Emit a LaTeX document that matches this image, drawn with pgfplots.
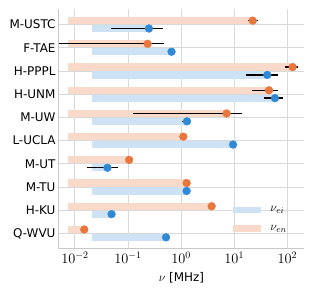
\documentclass[border=0pt]{standalone}
\usepackage{pgfplots}
\pgfplotsset{compat=1.18}
\usepackage{fontspec}
\setmainfont{DejaVu Sans}
\definecolor{cblue}{HTML}{3189D6}
\definecolor{corange}{HTML}{E8763D}
\definecolor{lblue}{HTML}{CDE2F4}
\definecolor{lorange}{HTML}{F9DACA}
\definecolor{gridc}{HTML}{D9D9D9}
\definecolor{spinec}{HTML}{C8C8C8}
\begin{document}
\begin{tikzpicture}[font=\fontsize{12}{14}\selectfont]
\begin{axis}[
  name=ax,
  scale only axis, width=245bp, height=239bp,
  xmode=log, xmin=0.00501, xmax=206,
  y dir=reverse, ymin=-0.65, ymax=9.65,
  ytick={0,...,9},
  yticklabels={M-USTC,F-TAE,H-PPPL,H-UNM,M-UW,L-UCLA,M-UT,M-TU,H-KU,Q-WVU},
  xtick={0.01,0.1,1,10,100},
  xticklabels={$10^{-2}$,$10^{-1}$,$10^{0}$,$10^{1}$,$10^{2}$},
  grid=major, major grid style={gridc, line width=0.9bp},
  axis x line*=bottom, axis y line*=left,
  axis line style={spinec, line width=1bp, -},
  major tick length=0pt, minor tick length=0pt,
  yticklabel style={font=\fontsize{12}{14}\selectfont},
  xticklabel style={font=\fontsize{14}{16}\selectfont},
  xlabel={$\nu$ [MHz]},
  xlabel style={font=\fontsize{12}{14}\selectfont, yshift=-2bp},
  legend style={at={(0.698,0.185)}, anchor=north west, draw=none, fill=none,
    inner sep=0pt, row sep=8bp, font=\fontsize{13}{15}\selectfont,
    nodes={inner xsep=6bp}},
  legend cell align=left,
]
% blue bars (nu_ei)
\addplot[lblue, line width=7.2bp, unbounded coords=jump,
  legend image code/.code={\draw[lblue, line width=6.5bp] (0cm,0cm) -- (0.98cm,0cm);}]
  coordinates {
  (0.0206,0.17) (0.248,0.17) (nan,nan)
  (0.0206,1.17) (0.66,1.17) (nan,nan)
  (0.0206,2.17) (42,2.17) (nan,nan)
  (0.0206,3.17) (58.6,3.17) (nan,nan)
  (0.0206,4.17) (1.29,4.17) (nan,nan)
  (0.0206,5.17) (9.5,5.17) (nan,nan)
  (0.0206,6.17) (0.041,6.17) (nan,nan)
  (0.0206,7.17) (1.27,7.17) (nan,nan)
  (0.0206,8.17) (0.049,8.17) (nan,nan)
  (0.0206,9.17) (0.52,9.17)
  };
\addlegendentry{$\nu_{ei}$}
% orange bars (nu_en)
\addplot[lorange, line width=7.2bp, unbounded coords=jump,
  legend image code/.code={\draw[lorange, line width=6.5bp] (0cm,0cm) -- (0.98cm,0cm);}]
  coordinates {
  (0.00748,-0.17) (22.3,-0.17) (nan,nan)
  (0.00748,0.83) (0.234,0.83) (nan,nan)
  (0.00748,1.83) (126,1.83) (nan,nan)
  (0.00748,2.83) (45.2,2.83) (nan,nan)
  (0.00748,3.83) (7.2,3.83) (nan,nan)
  (0.00748,4.83) (1.1,4.83) (nan,nan)
  (0.00748,5.83) (0.105,5.83) (nan,nan)
  (0.00748,6.83) (1.27,6.83) (nan,nan)
  (0.00748,7.83) (3.76,7.83) (nan,nan)
  (0.00748,8.83) (0.015,8.83)
  };
\addlegendentry{$\nu_{en}$}
% points
\addplot[forget plot, only marks, mark=*, mark size=3.9bp, mark options={draw=corange, fill=corange}]
  coordinates {(22.3,-0.17) (0.234,0.83) (126,1.83) (45.2,2.83) (7.2,3.83)
  (1.1,4.83) (0.105,5.83) (1.27,6.83) (3.76,7.83) (0.015,8.83)};
\addplot[forget plot, only marks, mark=*, mark size=3.9bp, mark options={draw=cblue, fill=cblue}]
  coordinates {(0.248,0.17) (0.66,1.17) (42,2.17) (58.6,3.17) (1.29,4.17)
  (9.5,5.17) (0.041,6.17) (1.27,7.17) (0.049,8.17) (0.52,9.17)};
% error bars
\addplot[forget plot, draw=none, mark=none,
  error bars/.cd, x dir=both, x explicit, error mark=none,
  error bar style={draw=black, line width=1.3bp}]
  table[x=x, y=y, x error plus=ep, x error minus=em] {
  x y ep em
  22.3 -0.17 5.3 4.4
  0.234 0.83 0.246 0.2339
  126 1.83 35 36
  45.2 2.83 22.4 23.6
  7.2 3.83 7.0 7.078
  0.105 5.83 0.012 0.011
  0.248 0.17 0.212 0.201
  42 2.17 25.6 25.3
  58.6 3.17 23.2 21.7
  1.29 4.17 0.26 0.27
  0.041 6.17 0.024 0.0244
  };
\end{axis}
\path ([xshift=-59bp, yshift=-46.5bp]ax.south west) rectangle ([xshift=10bp, yshift=9.5bp]ax.north east);
\end{tikzpicture}
\end{document}
